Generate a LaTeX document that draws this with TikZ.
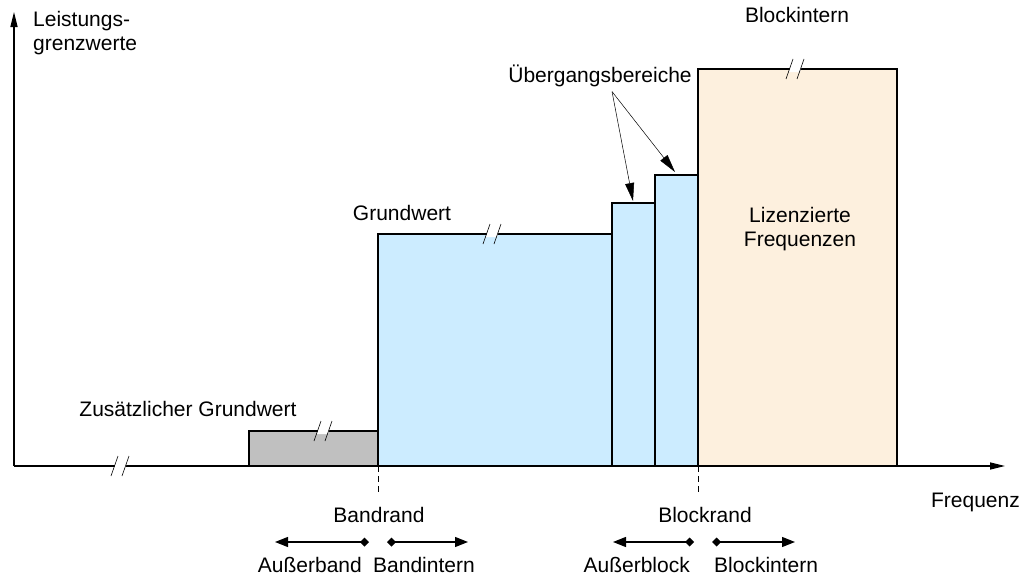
\documentclass[tikz,border=0pt]{standalone}
\usepackage{fontspec}
\setmainfont{Liberation Sans}
\usetikzlibrary{arrows.meta, positioning}

\definecolor{bandblue}{RGB}{204,236,255}
\definecolor{licbeige}{RGB}{253,240,222}
\definecolor{extragray}{RGB}{192,192,192}

\begin{document}
\begin{tikzpicture}[
  x=1pt, y=-1pt,
  lbl/.style={font=\fontsize{21}{24}\selectfont, inner sep=0pt},
  bandbox/.style={draw, line width=1.4pt},
  axisline/.style={line width=1.4pt, -{Triangle[length=15pt,width=7pt]}},
  rangearrow/.style={line width=1.3pt, {Diamond[length=9pt,width=9pt]}-{Triangle[length=13pt,width=10pt]}},
  hint/.style={line width=0.5pt, -{Triangle[length=18pt,width=9pt]}},
  rim/.style={dash pattern=on 6pt off 4pt, line width=0.8pt},
  brk/.pic={
    \fill[white] (-8,3) -- (-4,-10) -- (7,-10) -- (3,3) -- cycle;
    \draw[line width=0.6pt] (-11,10) -- (-4,-10) (0,10) -- (7,-10);
  }
]
\useasboundingbox (0,0) rectangle (1024,576);

% Blocks
\draw[bandbox, fill=extragray] (249,466) rectangle (378,431);
\draw[bandbox, fill=bandblue] (378,466) rectangle (612,234);
\draw[bandbox, fill=bandblue] (612,466) rectangle (655,203);
\draw[bandbox, fill=bandblue] (655,466) rectangle (698,175);
\draw[bandbox, fill=licbeige] (698,466) rectangle (897,69);

% Axes
\coordinate (origin) at (14,466);
\coordinate (ytip) at (14,12);
\coordinate (xtip) at (1005,466);
\draw[axisline] (origin) -- (ytip);
\draw[axisline] (origin) -- (xtip);

% Breaks
\pic at (122,466) {brk};
\pic at (325,431) {brk};
\pic at (494,234) {brk};
\pic at (797,69) {brk};

% Edge markers
\coordinate (bandtop) at (378,466);
\coordinate (bandbot) at (378,494);
\coordinate (blocktop) at (698,466);
\coordinate (blockbot) at (698,494);
\draw[rim] (bandtop) -- (bandbot);
\draw[rim] (blocktop) -- (blockbot);

% Labels
\node[lbl, anchor=north west, align=left] (ylabel) at (33,11) {Leistungs-\\grenzwerte};
\node[lbl, anchor=base east] (xlabel) at (1020,507) {Frequenz};
\node[lbl, anchor=base] (extra) at (188,416) {Zusätzlicher Grundwert};
\node[lbl, anchor=base] (basic) at (402,220) {Grundwert};
\node[lbl, anchor=base] (trans) at (600,82) {Übergangsbereiche};
\node[lbl, anchor=base] (blockin) at (797,22) {Blockintern};
\node[lbl, align=center] (licensed) at (800,229) {Lizenzierte\\Frequenzen};

\node[lbl, anchor=base] (bandedge) at (379,522) {Bandrand};
\node[lbl, anchor=base] (blockedge) at (705,522) {Blockrand};
\node[lbl, anchor=base east] (outband) at (362,572) {Außerband};
\node[lbl, anchor=base west] (inband) at (373,572) {Bandintern};
\node[lbl, anchor=base east] (outblock) at (690,572) {Außerblock};
\node[lbl, anchor=base west] (inblock) at (714,572) {Blockintern};

% Range arrows
\coordinate (bl) at (369,542);
\coordinate (blt) at (275,542);
\coordinate (br) at (387,542);
\coordinate (brt) at (468,542);
\coordinate (kl) at (694,542);
\coordinate (klt) at (613,542);
\coordinate (kr) at (712,542);
\coordinate (krt) at (795,542);
\draw[rangearrow] (bl) -- (blt);
\draw[rangearrow] (br) -- (brt);
\draw[rangearrow] (kl) -- (klt);
\draw[rangearrow] (kr) -- (krt);

% Transition pointers
\coordinate (step1) at (633,201);
\coordinate (step2) at (675,172);
\draw[hint] ([xshift=12pt,yshift=-5pt]trans.south) -- (step1);
\draw[hint] ([xshift=12pt,yshift=-5pt]trans.south) -- (step2);

\end{tikzpicture}
\end{document}
